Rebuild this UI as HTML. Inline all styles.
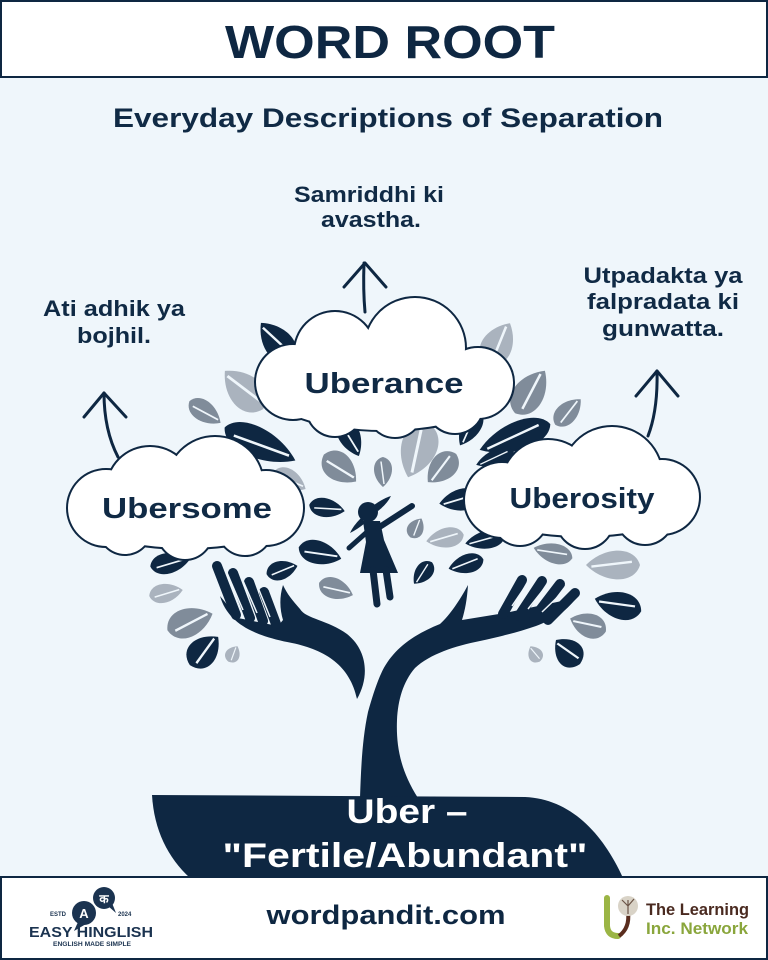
<!DOCTYPE html>
<html><head><meta charset="utf-8"><style>
html,body{margin:0;padding:0;background:#eff6fb;}
svg{display:block;}
text{font-family:"Liberation Sans","Noto Sans CJK SC",sans-serif;font-weight:bold;}
</style></head><body>
<svg width="768" height="960" viewBox="0 0 768 960" xmlns="http://www.w3.org/2000/svg">
<defs>
<g id="lf"><path d="M-20,0 C-16,-12 6,-12 20,0 C6,12 -16,12 -20,0 Z" fill="currentColor"/><path d="M-14,2 L16,-1" stroke="#eff6fb" stroke-width="1.5"/></g>
</defs>
<rect x="0" y="0" width="768" height="960" fill="#eff6fb"/>
<!-- header -->
<rect x="1" y="1" width="766" height="76" fill="#ffffff" stroke="#0e2742" stroke-width="2"/>
<text x="390" y="58" font-size="46" fill="#0e2742" text-anchor="middle" textLength="330" lengthAdjust="spacingAndGlyphs">WORD ROOT</text>
<text x="388" y="127" font-size="27" fill="#102a45" text-anchor="middle" textLength="550" lengthAdjust="spacingAndGlyphs">Everyday Descriptions of Separation</text>

<!-- leaves -->
<g>
<use href="#lf" color="#0e2742" transform="translate(277,342) rotate(-130) scale(1.25,1.6)"/>
<use href="#lf" color="#aab3be" transform="translate(498,344) rotate(-60) scale(1.2,1.7)"/>
<use href="#lf" color="#aab3be" transform="translate(244,390) rotate(-135) scale(1.35,1.85)"/>
<use href="#lf" color="#808c9a" transform="translate(205,412) rotate(35) scale(.95,1.15)"/>
<use href="#lf" color="#808c9a" transform="translate(530,392) rotate(-55) scale(1.3,1.7)"/>
<use href="#lf" color="#808c9a" transform="translate(568,412) rotate(-45) scale(.9,1.15)"/>
<use href="#lf" color="#0e2742" transform="translate(260,444) rotate(25) scale(1.95,1.7)"/>
<use href="#lf" color="#0e2742" transform="translate(515,437) rotate(160) scale(1.88,1.6)"/>
<use href="#lf" color="#0e2742" transform="translate(350,437) rotate(65) scale(1.05,1.22)"/>
<use href="#lf" color="#0e2742" transform="translate(470,428) rotate(120) scale(1,1.1)"/>
<use href="#lf" color="#aab3be" transform="translate(418,450) rotate(110) scale(1.45,2)"/>
<use href="#lf" color="#808c9a" transform="translate(340,468) rotate(40) scale(1.05,1.56)"/>
<use href="#lf" color="#808c9a" transform="translate(383,472) rotate(90) scale(.75,1)"/>
<use href="#lf" color="#808c9a" transform="translate(442,468) rotate(135) scale(1,1.44)"/>
<use href="#lf" color="#0e2742" transform="translate(495,458) rotate(160) scale(1,.9)"/>
<use href="#lf" color="#0e2742" transform="translate(327,508) rotate(10) scale(.9,1.05)"/>
<use href="#lf" color="#0e2742" transform="translate(320,553) rotate(15) scale(1.1,1.3)"/>
<use href="#lf" color="#808c9a" transform="translate(336,589) rotate(20) scale(.9,1.15)"/>
<use href="#lf" color="#808c9a" transform="translate(416,528) rotate(-60) scale(.55,.9)"/>
<use href="#lf" color="#aab3be" transform="translate(445,538) rotate(170) scale(.95,1.1)"/>
<use href="#lf" color="#0e2742" transform="translate(466,564) rotate(165) scale(.9,1.05)"/>
<use href="#lf" color="#0e2742" transform="translate(423,573) rotate(130) scale(.7,.95)"/>
<use href="#lf" color="#0e2742" transform="translate(460,500) rotate(170) scale(1.05,1.22)"/>
<use href="#lf" color="#0e2742" transform="translate(170,563) rotate(-10) scale(1,1.15)"/>
<use href="#lf" color="#aab3be" transform="translate(166,593) rotate(-10) scale(.85,1.05)"/>
<use href="#lf" color="#808c9a" transform="translate(190,622) rotate(-20) scale(1.2,1.6)"/>
<use href="#lf" color="#0e2742" transform="translate(204,651) rotate(-45) scale(1,1.6)"/>
<use href="#lf" color="#aab3be" transform="translate(233,654) rotate(-60) scale(.45,.8)"/>
<use href="#lf" color="#0e2742" transform="translate(282,570) rotate(-15) scale(.8,1.05)"/>
<use href="#lf" color="#aab3be" transform="translate(613,565) rotate(180) scale(1.35,1.6)"/>
<use href="#lf" color="#808c9a" transform="translate(553,553) rotate(-165) scale(1,1.1)"/>
<use href="#lf" color="#0e2742" transform="translate(618,605) rotate(195) scale(1.2,1.5)"/>
<use href="#lf" color="#808c9a" transform="translate(588,625) rotate(200) scale(.95,1.35)"/>
<use href="#lf" color="#aab3be" transform="translate(535,654) rotate(240) scale(.45,.8)"/>
<use href="#lf" color="#0e2742" transform="translate(568,652) rotate(225) scale(.85,1.5)"/>
<use href="#lf" color="#aab3be" transform="translate(290,480) rotate(30) scale(.9,1.1)"/>
<use href="#lf" color="#0e2742" transform="translate(485,540) rotate(170) scale(1,1)"/>
</g>

<!-- tree: trunk + right arm -->
<g fill="#0e2742">
<path d="M360,798 C361,770 362,740 368,712 C372,698 375,688 380,676 C390,652 410,636 440,624 C450,615 460,600 468,585 C467,600 465,610 462,620 L505,613 L576,598 C566,612 552,620 536,626 C516,633 498,637 480,641 C455,646 430,654 415,668 C403,682 398,700 397,720 C396,745 400,770 418,798 Z"/>
<path d="M220,596 C228,624 255,636 292,643 C326,650 350,666 357,699 C370,676 367,650 347,634 C328,620 306,619 300,609 C293,601 287,594 283,585 C279,598 280,610 283,620 L278,626 L238,618 Z"/>
</g>
<g stroke="#0e2742" stroke-width="10" stroke-linecap="round" fill="none">
<line x1="503" y1="614" x2="522" y2="580"/>
<line x1="519" y1="616" x2="542" y2="581"/>
<line x1="534" y1="618" x2="560" y2="584"/>
<line x1="548" y1="620" x2="575" y2="593"/>
<line x1="236" y1="615" x2="217" y2="566"/>
<line x1="250" y1="618" x2="233" y2="573"/>
<line x1="263" y1="621" x2="249" y2="582"/>
<line x1="276" y1="624" x2="264" y2="592"/>
</g>
<g stroke="#eff6fb" stroke-width="1.5" fill="none">
<line x1="512" y1="606" x2="531" y2="578"/>
<line x1="528" y1="609" x2="551" y2="580"/>
<line x1="542" y1="612" x2="568" y2="587"/>
<line x1="243" y1="610" x2="225" y2="568"/>
<line x1="257" y1="613" x2="241" y2="576"/>
<line x1="270" y1="617" x2="257" y2="585"/>
</g>
<!-- girl -->
<g fill="#0e2742">
<circle cx="368" cy="512" r="10"/>
<path d="M374,505 Q384,498 391,496 Q387,504 378,511 Z"/>
<path d="M361,518 Q353,526 350,533 Q358,529 365,523 Z"/>
<path d="M363,521 L380,521 L384,540 L398,573 L360,573 L366,542 Z"/>
</g>
<g stroke="#0e2742" stroke-linecap="round" fill="none">
<line x1="378" y1="528" x2="412" y2="506" stroke-width="6"/>
<line x1="367" y1="532" x2="349" y2="548" stroke-width="5"/>
<line x1="373" y1="570" x2="377" y2="604" stroke-width="7"/>
<line x1="386" y1="570" x2="390" y2="597" stroke-width="7"/>
</g>

<!-- bottom root shape -->
<path d="M152,795 L525,797 C570,799 602,832 623,878 L190,878 C168,858 154,830 152,795 Z" fill="#0e2742"/>
<text x="407" y="823" font-size="34" fill="#ffffff" text-anchor="middle" textLength="121" lengthAdjust="spacingAndGlyphs">Uber –</text>
<text x="405" y="867" font-size="34" fill="#ffffff" text-anchor="middle" textLength="365" lengthAdjust="spacingAndGlyphs">"Fertile/Abundant"</text>

<!-- arrows -->
<g stroke="#0e2742" stroke-width="3" fill="none" stroke-linecap="round" stroke-linejoin="round">
<path d="M118,457 Q104,430 104,393"/>
<path d="M84,417 L104,393 L126,417"/>
<path d="M365,312 Q363,290 364,263"/>
<path d="M344,287 L365,263 L386,287"/>
<path d="M648,436 Q658,410 657,371"/>
<path d="M636,396 L657,371 L678,396"/>
</g>

<!-- clouds -->
<g stroke="#0e2742" stroke-width="4" fill="#0e2742">
<ellipse cx="384" cy="388" rx="118" ry="42"/><circle cx="335" cy="352" r="40"/><circle cx="415" cy="348" r="50"/><circle cx="293" cy="382" r="37"/><circle cx="478" cy="383" r="35"/><circle cx="335" cy="408" r="28"/><circle cx="395" cy="410" r="27"/><circle cx="455" cy="405" r="28"/>
</g>
<g fill="#ffffff">
<ellipse cx="384" cy="388" rx="118" ry="42"/><circle cx="335" cy="352" r="40"/><circle cx="415" cy="348" r="50"/><circle cx="293" cy="382" r="37"/><circle cx="478" cy="383" r="35"/><circle cx="335" cy="408" r="28"/><circle cx="395" cy="410" r="27"/><circle cx="455" cy="405" r="28"/>
</g>
<g stroke="#0e2742" stroke-width="4" fill="#0e2742">
<ellipse cx="186" cy="512" rx="108" ry="36"/><circle cx="150" cy="490" r="43"/><circle cx="215" cy="485" r="48"/><circle cx="106" cy="508" r="38"/><circle cx="266" cy="508" r="37"/><circle cx="125" cy="528" r="26"/><circle cx="185" cy="532" r="27"/><circle cx="245" cy="528" r="27"/>
</g>
<g fill="#ffffff">
<ellipse cx="186" cy="512" rx="108" ry="36"/><circle cx="150" cy="490" r="43"/><circle cx="215" cy="485" r="48"/><circle cx="106" cy="508" r="38"/><circle cx="266" cy="508" r="37"/><circle cx="125" cy="528" r="26"/><circle cx="185" cy="532" r="27"/><circle cx="245" cy="528" r="27"/>
</g>
<g stroke="#0e2742" stroke-width="4" fill="#0e2742">
<ellipse cx="582" cy="500" rx="108" ry="36"/><circle cx="548" cy="486" r="46"/><circle cx="612" cy="477" r="50"/><circle cx="502" cy="500" r="37"/><circle cx="662" cy="497" r="37"/><circle cx="520" cy="518" r="27"/><circle cx="585" cy="520" r="28"/><circle cx="645" cy="516" r="28"/>
</g>
<g fill="#ffffff">
<ellipse cx="582" cy="500" rx="108" ry="36"/><circle cx="548" cy="486" r="46"/><circle cx="612" cy="477" r="50"/><circle cx="502" cy="500" r="37"/><circle cx="662" cy="497" r="37"/><circle cx="520" cy="518" r="27"/><circle cx="585" cy="520" r="28"/><circle cx="645" cy="516" r="28"/>
</g>

<!-- cloud labels -->
<text x="384" y="393" font-size="29" fill="#102a45" text-anchor="middle" textLength="159" lengthAdjust="spacingAndGlyphs">Uberance</text>
<text x="187" y="518" font-size="29" fill="#102a45" text-anchor="middle" textLength="170" lengthAdjust="spacingAndGlyphs">Ubersome</text>
<text x="582" y="508" font-size="29" fill="#102a45" text-anchor="middle" textLength="145" lengthAdjust="spacingAndGlyphs">Uberosity</text>

<!-- description labels -->
<g fill="#102a45" font-size="22" text-anchor="middle">
<text x="369" y="202" textLength="150" lengthAdjust="spacingAndGlyphs">Samriddhi ki</text>
<text x="371" y="227" textLength="100" lengthAdjust="spacingAndGlyphs">avastha.</text>
<text x="114" y="316" textLength="142" lengthAdjust="spacingAndGlyphs">Ati adhik ya</text>
<text x="114" y="343" textLength="74" lengthAdjust="spacingAndGlyphs">bojhil.</text>
<text x="663" y="283" textLength="159" lengthAdjust="spacingAndGlyphs">Utpadakta ya</text>
<text x="663" y="309" textLength="152" lengthAdjust="spacingAndGlyphs">falpradata ki</text>
<text x="663" y="336" textLength="122" lengthAdjust="spacingAndGlyphs">gunwatta.</text>
</g>

<!-- footer -->
<rect x="1" y="877" width="766" height="82" fill="#ffffff" stroke="#0e2742" stroke-width="2"/>
<text x="386" y="924" font-size="27" fill="#0e2742" text-anchor="middle" textLength="239" lengthAdjust="spacingAndGlyphs">wordpandit.com</text>
<!-- easy hinglish logo -->
<g fill="#1b3350">
<circle cx="104" cy="898" r="11"/>
<path d="M108,906 L116,913 L112,903 Z"/>
<circle cx="84" cy="913" r="12"/>
<path d="M78,922 L74,931 L86,924 Z"/>
</g>
<text x="84" y="918" font-size="13" fill="#ffffff" text-anchor="middle">A</text>
<text x="104" y="903" font-size="12" fill="#ffffff" text-anchor="middle">क</text>
<text x="50" y="916" font-size="6" fill="#1b3350">ESTD</text>
<text x="118" y="916" font-size="6" fill="#1b3350">2024</text>
<text x="91" y="937" font-size="15" fill="#1b3350" text-anchor="middle" font-weight="normal" textLength="124" lengthAdjust="spacingAndGlyphs">EASY HINGLISH</text>
<text x="92" y="946" font-size="6" fill="#1b3350" text-anchor="middle" textLength="78" lengthAdjust="spacingAndGlyphs">ENGLISH MADE SIMPLE</text>
<!-- learning network logo -->
<path d="M607,898 L607,926 Q608,936 618,936" stroke="#9bb545" stroke-width="6" fill="none" stroke-linecap="round"/>
<path d="M628,912 Q630,928 619,936" stroke="#5a2d1e" stroke-width="4" fill="none"/>
<circle cx="628" cy="906" r="10" fill="#d9d3c7"/>
<path d="M628,914 L628,900 M628,906 L622,900 M628,906 L634,899" stroke="#6b5446" stroke-width="1.2" fill="none"/>
<text x="646" y="915" font-size="17" fill="#4a2a20" textLength="103" lengthAdjust="spacingAndGlyphs">The Learning</text>
<text x="646" y="934" font-size="17" fill="#8aa63c" textLength="102" lengthAdjust="spacingAndGlyphs">Inc. Network</text>
</svg>
</body></html>
